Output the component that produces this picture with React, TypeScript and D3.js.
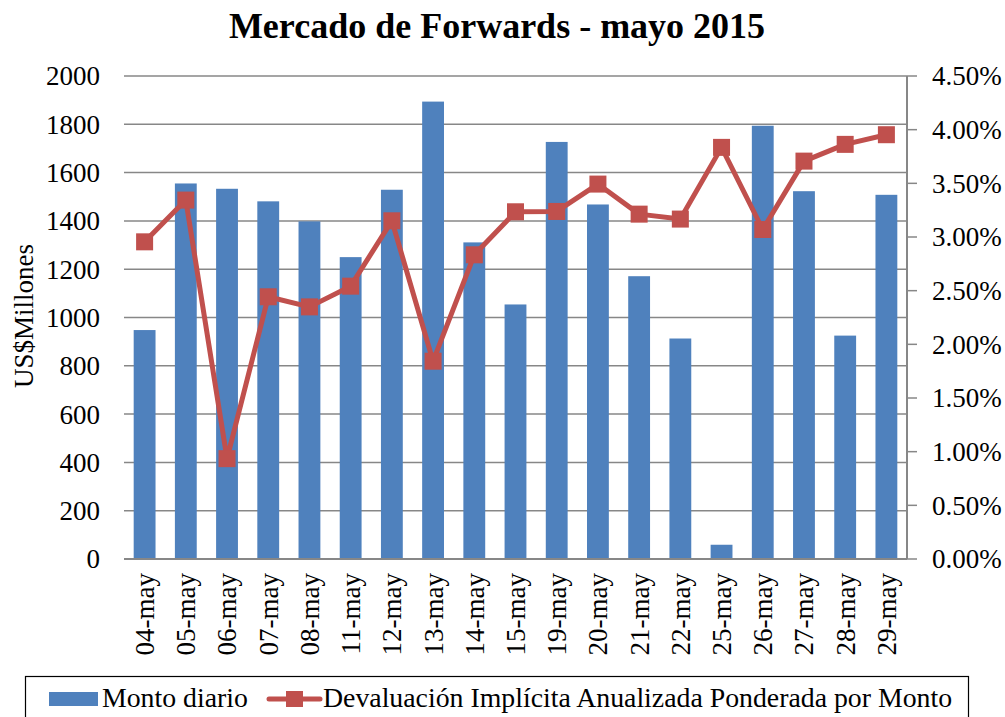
import React from "react";
import * as d3 from "d3";

const categories = ["04-may","05-may","06-may","07-may","08-may","11-may","12-may","13-may","14-may","15-may","19-may","20-may","21-may","22-may","25-may","26-may","27-may","28-may","29-may"];
const montoDiario = [948,1555,1533,1481,1398,1250,1529,1894,1311,1054,1727,1468,1171,913,59,1794,1523,925,1508];
const devaluacion = [2.955,3.344,0.935,2.443,2.349,2.542,3.151,1.843,2.834,3.235,3.238,3.493,3.213,3.167,3.835,3.07,3.707,3.863,3.953];
const leftTicks = [0,200,400,600,800,1000,1200,1400,1600,1800,2000];
const rightTicks = [0,0.5,1,1.5,2,2.5,3,3.5,4,4.5];

const W = 1005, H = 717;
const L = 124, R = 907, T = 76, B = 559;
const FONT = "'Liberation Serif', 'Times New Roman', serif";
const BLUE = "#4F81BD";
const RED = "#C0504D";
const GRID = "#878787";

export default function App() {
  const x = d3.scaleBand<string>().domain(categories).range([L, R]).paddingInner(0.47).paddingOuter(0.235);
  const cx = (c: string) => (x(c) as number) + x.bandwidth() / 2;
  const bw = x.bandwidth();
  const yL = d3.scaleLinear().domain([0, 2000]).range([B, T]);
  const yR = d3.scaleLinear().domain([0, 4.5]).range([B, T]);
  const line = d3.line<number>().x((_, i) => cx(categories[i])).y((d) => yR(d));
  const ms = 17;

  return (
    <svg width={W} height={H} style={{ position: "absolute", left: 0, top: 0, background: "#fff" }} fontFamily={FONT}>
      <text x={497} y={38} textAnchor="middle" fontSize={36} fontWeight="bold" fill="#000">Mercado de Forwards - mayo 2015</text>
      {leftTicks.map((t) => (
        <g key={"l" + t}>
          {t !== 0 && <line x1={L} x2={R} y1={yL(t)} y2={yL(t)} stroke={GRID} strokeWidth={1.5} />}
          <text x={100} y={yL(t)} dy="0.35em" textAnchor="end" fontSize={27} fill="#000">{t}</text>
        </g>
      ))}
      {rightTicks.map((t) => (
        <g key={"r" + t}>
          <line x1={R} x2={R + 10} y1={yR(t)} y2={yR(t)} stroke={GRID} strokeWidth={1.5} />
          <text x={932} y={yR(t)} dy="0.35em" textAnchor="start" fontSize={27} fill="#000">{t.toFixed(2) + "%"}</text>
        </g>
      ))}
      <text transform={`translate(33,316) rotate(-90)`} textAnchor="middle" fontSize={27} fill="#000">US$Millones</text>
      {montoDiario.map((v, i) => (
        <rect key={"b" + i} x={cx(categories[i]) - bw / 2} y={yL(v)} width={bw} height={yL(0) - yL(v)} fill={BLUE} />
      ))}
      <line x1={L} x2={R} y1={B} y2={B} stroke={GRID} strokeWidth={2} />
      <line x1={R} x2={R} y1={T} y2={B} stroke={GRID} strokeWidth={2} />
      <path d={line(devaluacion) || ""} fill="none" stroke={RED} strokeWidth={5} strokeLinejoin="round" />
      {devaluacion.map((v, i) => (
        <rect key={"m" + i} x={cx(categories[i]) - ms / 2} y={yR(v) - ms / 2} width={ms} height={ms} fill={RED} />
      ))}
      {categories.map((c) => (
        <text key={"x" + c} transform={`translate(${cx(c)},573) rotate(-90)`} dy="0.35em" textAnchor="end" fontSize={27} fill="#000">{c}</text>
      ))}
      <rect x={25.5} y={676.5} width={943} height={60} fill="none" stroke="#000" strokeWidth={1.2} />
      <rect x={49} y={692} width={49} height={14} fill={BLUE} />
      <text x={102} y={707} fontSize={27.8} fill="#000">Monto diario</text>
      <line x1={269} x2={320} y1={699} y2={699} stroke={RED} strokeWidth={5} strokeLinecap="round" />
      <rect x={286} y={691} width={17} height={16} fill={RED} />
      <text x={323} y={707} fontSize={27.8} fill="#000">Devaluación Implícita Anualizada Ponderada por Monto</text>
    </svg>
  );
}
